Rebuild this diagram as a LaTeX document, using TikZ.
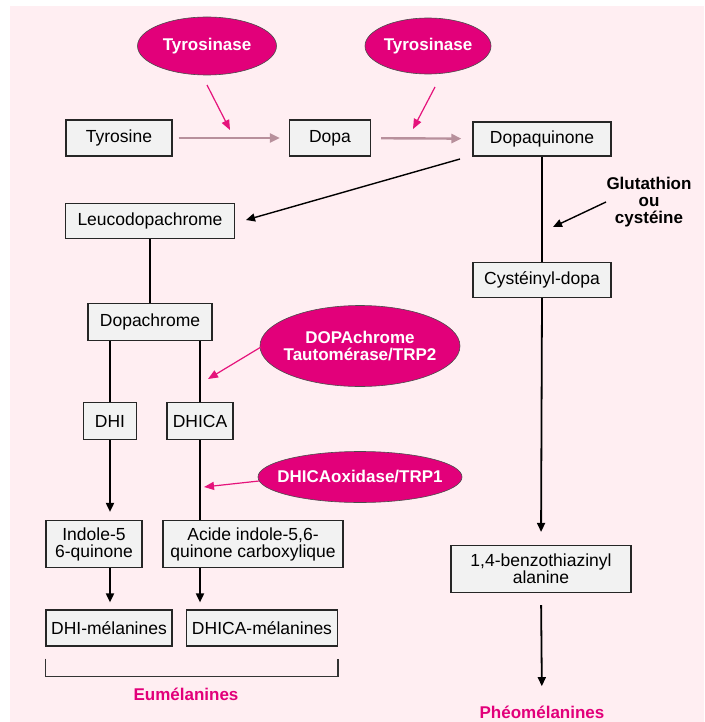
\documentclass[tikz,border=0pt]{standalone}
\usepackage{fontspec}
\setmainfont{Liberation Sans}
\usetikzlibrary{shapes.geometric,arrows.meta}
\definecolor{bgpink}{HTML}{FFEEF2}
\definecolor{boxgray}{HTML}{F2F2F2}
\definecolor{enzyme}{HTML}{E2007A}
\definecolor{pinkarrow}{HTML}{E5137B}
\definecolor{grayarrow}{HTML}{B8909C}
\newcommand{\diagfont}{\fontsize{17.5}{17}\selectfont}
\newcommand{\boldfont}{\fontsize{17}{17}\selectfont\bfseries}
\tikzset{
	mol/.style={draw=black!85, fill=boxgray, line width=1.2pt, inner sep=0pt, align=center},
	enzshape/.style={fill=enzyme, draw=black!70, line width=0.6pt},
	enz/.style={inner sep=0pt, text=white, font=\boldfont, align=center},
	flow/.style={line width=1.8pt},
	flowarrow/.style={line width=1.8pt, -{Triangle[length=9pt,width=8pt]}},
	enzarrow/.style={draw=pinkarrow, line width=1.2pt, -{Triangle[length=10pt,width=8pt]}},
	grayflow/.style={draw=grayarrow, line width=2.4pt, -{Triangle[length=10pt,width=9pt]}},
	family/.style={text=enzyme, font=\boldfont}
}
\begin{document}
\begin{tikzpicture}[x=1pt, y=-1pt, font=\diagfont]
		\useasboundingbox (0,0) rectangle (704,722);
		\fill[bgpink] (10,6) rectangle (704,722);
		
		% molecules
		\node[mol, minimum width=106pt, minimum height=36pt] (tyr) at (119,138) {Tyrosine};
		\node[mol, minimum width=81pt, minimum height=36pt] (dopa) at (330,138) {Dopa};
		\node[mol, minimum width=138pt, minimum height=34pt] (dopaq) at (542,139) {Dopaquinone};
		\node[mol, minimum width=169pt, minimum height=35pt] (leuco) at (150,221) {Leucodopachrome};
		\node[mol, minimum width=138pt, minimum height=35pt] (cyst) at (542,280) {Cystéinyl-dopa};
		\node[mol, minimum width=124pt, minimum height=37pt] (dopach) at (150,322) {Dopachrome};
		\node[mol, minimum width=53pt, minimum height=37pt] (dhi) at (110,421) {DHI};
		\node[mol, minimum width=66pt, minimum height=37pt] (dhica) at (200,421) {DHICA};
		\node[mol, minimum width=96pt, minimum height=47pt] (indole) at (94,544) {Indole-5\\6-quinone};
		\node[mol, minimum width=180pt, minimum height=47pt] (acide) at (253,544) {Acide indole-5,6-\\quinone carboxylique};
		\node[mol, minimum width=126pt, minimum height=36pt] (dhimel) at (109,628) {DHI-mélanines};
		\node[mol, minimum width=151pt, minimum height=36pt] (dhicamel) at (262,628) {DHICA-mélanines};
		\node[mol, minimum width=180pt, minimum height=47pt] (benzo) at (541,569) {1,4-benzothiazinyl\\alanine};
		
		% enzymes
		\path[enzshape] (207,46) ellipse[x radius=69.5, y radius=29];
		\path[enzshape] (428,46) ellipse[x radius=63, y radius=28];
		\path[enzshape] (360,346) ellipse[x radius=100, y radius=40.5];
		\path[enzshape] (360,477) ellipse[x radius=102, y radius=25.5];
		\node[enz] (tyrA) at (207,46) {Tyrosinase};
		\node[enz] (tyrB) at (428,46) {Tyrosinase};
		\node[enz] (dct) at (360,346) {DOPAchrome\\Tautomérase/TRP2};
		\node[enz] (dhicaox) at (360,477) {DHICAoxidase/TRP1};
		
		\node[font=\boldfont, align=center] (glut) at (649,202) {Glutathion\\ou\\cystéine};
		\node[family] (eum) at (186,694) {Eumélanines};
		\node[family] (pheo) at (542,712) {Phéomélanines};
		
		\coordinate (tA1) at (207,85);  \coordinate (tA2) at (230,130);
		\coordinate (tB1) at (435,87);  \coordinate (tB2) at (413,129);
		\coordinate (dct1) at (261,347); \coordinate (dct2) at (208,379);
		\coordinate (ox1) at (259,481); \coordinate (ox2) at (204,487);
		\coordinate (dq1) at (460,159); \coordinate (dq2) at (246,220);
		\coordinate (gl1) at (606,202); \coordinate (gl2) at (553,227);
		
		% top chain
		\draw[grayflow, shorten <=6pt, shorten >=9pt] (tyr) -- (dopa);
		\draw[grayflow, shorten <=10pt, shorten >=11pt] (dopa) -- (dopaq);
		\draw[enzarrow] (tA1) -- (tA2);
		\draw[enzarrow] (tB1) -- (tB2);
		\draw[flowarrow, line width=1.4pt] (dq1) -- (dq2);
		
		% pheomelanin branch
		\draw[flow] (dopaq.south) -- (cyst.north);
		\draw[flowarrow, line width=1.4pt] (gl1) -- (gl2);
		\draw[flowarrow, shorten >=13pt] (cyst.south) -- (benzo.north);
		\draw[flowarrow, shorten <=12pt, shorten >=16pt] (benzo.south) -- (pheo.north);
		
		% eumelanin branch
		\draw[flow] (leuco.south) -- (dopach.north);
		\draw[flow] (dhi.north) -- (dhi.north |- dopach.south);
		\draw[flow] (dhica.north) -- (dhica.north |- dopach.south);
		\draw[enzarrow] (dct1) -- (dct2);
		\draw[flowarrow, shorten >=8pt] (dhi.south) -- (dhi.south |- indole.north);
		\draw[flow] (dhica.south) -- (dhica.south |- acide.north);
		\draw[enzarrow] (ox1) -- (ox2);
		\draw[flowarrow, shorten >=7pt] (dhi.south |- indole.south) -- (dhi.south |- dhimel.north);
		\draw[flowarrow, shorten >=7pt] (dhica.south |- acide.south) -- (dhica.south |- dhicamel.north);
		
		% bracket
		\draw[line width=1.3pt, black!80] (dhimel.south west) ++(0,12) -- ++(0,18) -| ([yshift=-12pt]dhicamel.south east);
\end{tikzpicture}
\end{document}
